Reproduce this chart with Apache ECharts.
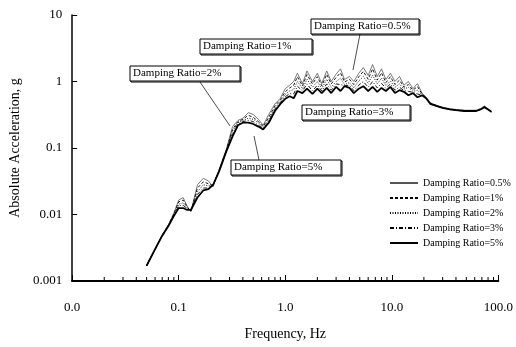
<!DOCTYPE html>
<html>
<head>
<meta charset="utf-8">
<script src="https://cdn.jsdelivr.net/npm/echarts@6/dist/echarts.min.js"></script>
<style>
  html, body { margin: 0; padding: 0; background: #fff; }
  #chart { width: 516px; height: 347px; }
</style>
</head>
<body>
<div id="chart"></div>
<script>
// Response spectra, frequency in Hz, acceleration in g
const freq = [0.05, 0.06, 0.07, 0.08, 0.09, 0.1, 0.11, 0.12, 0.13,
  0.15, 0.17, 0.19, 0.21,
  0.24, 0.28, 0.32, 0.36, 0.4,
  0.45, 0.5, 0.56, 0.62, 0.7,
  0.8, 0.9, 1.0, 1.1, 1.2,
  1.3, 1.45, 1.6, 1.8, 2.0,
  2.2, 2.45, 2.7, 3.0, 3.3,
  3.6, 4.0, 4.4, 4.9, 5.4,
  6.0, 6.6, 7.3, 8.0, 8.8,
  9.7, 10.7, 11.8, 13, 14.3,
  15.8, 17.4, 19.2, 21, 23,
  26, 30, 35, 40, 48,
  55, 62, 68, 74, 80, 86];

const damp05 = [0.0017, 0.003, 0.0049, 0.007, 0.0105, 0.0165, 0.018, 0.0134, 0.011,
  0.028, 0.035, 0.032, 0.026,
  0.048, 0.096, 0.21, 0.26, 0.28,
  0.34, 0.32, 0.27, 0.22, 0.32,
  0.46, 0.56, 0.78, 0.88, 1.0,
  1.33, 0.93, 1.44, 1.0, 1.33,
  0.93, 1.44, 1.0, 1.29, 1.55,
  1.07, 1.19, 1.0, 1.33, 1.62,
  1.23, 1.8, 1.19, 1.55, 1.07,
  1.33, 1.0, 1.19, 0.88, 1.0,
  0.78, 0.93, 0.67, 0.58, 0.48,
  0.44, 0.41, 0.39, 0.38, 0.37,
  0.37, 0.37, 0.39, 0.43, 0.39, 0.35];

const damp1 = [0.0017, 0.003, 0.0049, 0.0069, 0.0102, 0.0155, 0.0165, 0.013, 0.0112,
  0.025, 0.031, 0.029, 0.027,
  0.047, 0.093, 0.19, 0.25, 0.27,
  0.31, 0.29, 0.25, 0.21, 0.29,
  0.43, 0.53, 0.70, 0.80, 0.88,
  1.18, 0.86, 1.27, 0.92, 1.18,
  0.86, 1.28, 0.92, 1.15, 1.35,
  0.98, 1.08, 0.90, 1.18, 1.42,
  1.08, 1.55, 1.05, 1.35, 0.96,
  1.18, 0.90, 1.05, 0.82, 0.90,
  0.74, 0.84, 0.65, 0.57, 0.47,
  0.44, 0.40, 0.38, 0.37, 0.36,
  0.36, 0.36, 0.38, 0.42, 0.38, 0.35];

const damp2 = [0.0017, 0.003, 0.0048, 0.0068, 0.0099, 0.0143, 0.015, 0.0124, 0.0114,
  0.022, 0.028, 0.027, 0.027,
  0.046, 0.091, 0.18, 0.24, 0.26,
  0.28, 0.27, 0.24, 0.20, 0.27,
  0.40, 0.50, 0.64, 0.72, 0.76,
  1.0, 0.78, 1.08, 0.82, 1.0,
  0.78, 1.08, 0.82, 1.0, 1.12,
  0.90, 0.96, 0.80, 1.02, 1.18,
  0.94, 1.25, 0.92, 1.12, 0.87,
  1.02, 0.82, 0.92, 0.77, 0.82,
  0.71, 0.74, 0.63, 0.56, 0.46,
  0.43, 0.40, 0.38, 0.37, 0.36,
  0.36, 0.36, 0.38, 0.41, 0.38, 0.35];

const damp3 = [0.0017, 0.003, 0.0048, 0.0067, 0.0097, 0.0135, 0.0138, 0.012, 0.0115,
  0.02, 0.025, 0.025, 0.028,
  0.045, 0.09, 0.16, 0.23, 0.25,
  0.26, 0.25, 0.22, 0.195, 0.25,
  0.38, 0.48, 0.59, 0.66, 0.65,
  0.85, 0.72, 0.92, 0.72, 0.88,
  0.72, 0.92, 0.74, 0.92, 0.90,
  0.86, 0.88, 0.73, 0.88, 1.0,
  0.82, 1.0, 0.80, 0.94, 0.79,
  0.92, 0.74, 0.82, 0.73, 0.71,
  0.69, 0.65, 0.62, 0.56, 0.46,
  0.43, 0.40, 0.38, 0.37, 0.36,
  0.36, 0.36, 0.38, 0.41, 0.38, 0.35];

const damp5 = [0.0017, 0.003, 0.0048, 0.0067, 0.0095, 0.0125, 0.0125, 0.0117, 0.0117,
  0.018, 0.023, 0.024, 0.028,
  0.045, 0.089, 0.15, 0.22, 0.24,
  0.24, 0.23, 0.21, 0.19, 0.24,
  0.36, 0.46, 0.55, 0.60, 0.56,
  0.72, 0.67, 0.78, 0.65, 0.78,
  0.67, 0.80, 0.67, 0.83, 0.72,
  0.85, 0.80, 0.67, 0.78, 0.85,
  0.72, 0.83, 0.70, 0.80, 0.72,
  0.83, 0.67, 0.74, 0.70, 0.62,
  0.67, 0.58, 0.62, 0.56, 0.46,
  0.43, 0.40, 0.38, 0.37, 0.36,
  0.36, 0.36, 0.38, 0.41, 0.38, 0.35];

const seriesNames = ['Damping Ratio=0.5%', 'Damping Ratio=1%', 'Damping Ratio=2%',
  'Damping Ratio=3%', 'Damping Ratio=5%'];

// log minor ticks on the frequency axis (2..9 in every decade)
const minorTicks = [];
[0.01, 0.1, 1, 10].forEach(d => {
  for (let k = 2; k <= 9; k++) minorTicks.push(+(d * k).toPrecision(3));
});

const FONT = 'Liberation Serif';
const chart = echarts.init(document.getElementById('chart'));

const pairs = arr => freq.map((f, i) => [f, arr[i]]);

function lineSeries(name, arr, style) {
  return {
    name: name,
    type: 'line',
    data: pairs(arr),
    symbol: 'none',
    itemStyle: { color: style.color },
    lineStyle: style,
    z: 3
  };
}

// annotation box: rect + text
function label(x, y, w, text) {
  return [
    { type: 'rect', shape: { x: x + 1, y: y + 1, width: w, height: 15 },
      style: { fill: 'none', stroke: '#000', lineWidth: 1 }, z: 10 },
    { type: 'rect', shape: { x: x, y: y, width: w, height: 15 },
      style: { fill: '#fff', stroke: '#000', lineWidth: 1 }, z: 11 },
    { type: 'text', x: x + 3, y: y + 2,
      style: { text: text, font: '11px "' + FONT + '"', fill: '#000' }, z: 12 }
  ];
}
function leader(x1, y1, x2, y2) {
  return { type: 'line', shape: { x1: x1, y1: y1, x2: x2, y2: y2 },
    style: { stroke: '#000', lineWidth: 0.7 }, z: 9 };
}

const option = {
  animation: false,
  backgroundColor: '#fff',
  grid: { left: 60, right: 11, top: 15, bottom: 66 },
  legend: {
    orient: 'vertical',
    left: 389,
    top: 176,
    padding: 0,
    itemWidth: 28,
    itemHeight: 10,
    itemGap: 1,
    data: seriesNames,
    itemStyle: { opacity: 0 },
    textStyle: { fontFamily: FONT, fontSize: 10, color: '#000', lineHeight: 14 }
  },
  xAxis: {
    type: 'log',
    logBase: 10,
    min: 0.01,
    max: 100,
    name: 'Frequency, Hz',
    nameLocation: 'middle',
    nameGap: 46,
    nameTextStyle: { fontFamily: FONT, fontSize: 14, color: '#000' },
    axisLine: { lineStyle: { color: '#000', width: 2 } },
    axisTick: { inside: true, length: 6, lineStyle: { color: '#000' } },
    axisLabel: {
      fontFamily: FONT, fontSize: 13, color: '#000', margin: 20,
      formatter: v => Number(v).toFixed(1)
    },
    splitLine: { show: false }
  },
  yAxis: {
    type: 'log',
    logBase: 10,
    min: 0.001,
    max: 10,
    name: 'Absolute Acceleration, g',
    nameLocation: 'middle',
    nameGap: 40,
    nameRotate: 90,
    nameTextStyle: { fontFamily: FONT, fontSize: 14, color: '#000' },
    axisLine: { lineStyle: { color: '#000', width: 1.5 } },
    axisTick: { inside: true, length: 5, lineStyle: { color: '#000' } },
    axisLabel: {
      fontFamily: FONT, fontSize: 13, color: '#000', margin: 10,
      formatter: v => String(Number(Number(v).toPrecision(3)))
    },
    splitLine: { show: false }
  },
  series: [
    lineSeries(seriesNames[0], damp05, { color: '#555', width: 0.8, type: 'solid' }),
    lineSeries(seriesNames[1], damp1, { color: '#000', width: 0.9, type: [3, 2] }),
    lineSeries(seriesNames[2], damp2, { color: '#000', width: 0.9, type: [1, 1.5] }),
    lineSeries(seriesNames[3], damp3, { color: '#000', width: 0.9, type: [4, 2, 1, 2] }),
    lineSeries(seriesNames[4], damp5, { color: '#000', width: 1.8, type: 'solid' }),
    {
      type: 'custom',
      silent: true,
      clip: false,
      data: minorTicks.map(v => [v, 0.001]),
      renderItem: (params, api) => {
        const p = api.coord([api.value(0), api.value(1)]);
        return {
          type: 'line',
          shape: { x1: p[0], y1: p[1], x2: p[0], y2: p[1] - 4 },
          style: { stroke: '#000', lineWidth: 1 }
        };
      },
      z: 4
    }
  ],
  graphic: [].concat(
    label(311, 19, 108, 'Damping Ratio=0.5%'),
    label(200, 39, 112, 'Damping Ratio=1%'),
    label(130, 66, 110, 'Damping Ratio=2%'),
    label(302, 105, 108, 'Damping Ratio=3%'),
    label(231, 160, 110, 'Damping Ratio=5%'),
    [
      leader(360, 34, 353, 70),
      leader(200, 82, 230, 126),
      leader(254, 136, 259, 160)
    ]
  )
};

chart.setOption(option);
</script>
</body>
</html>
